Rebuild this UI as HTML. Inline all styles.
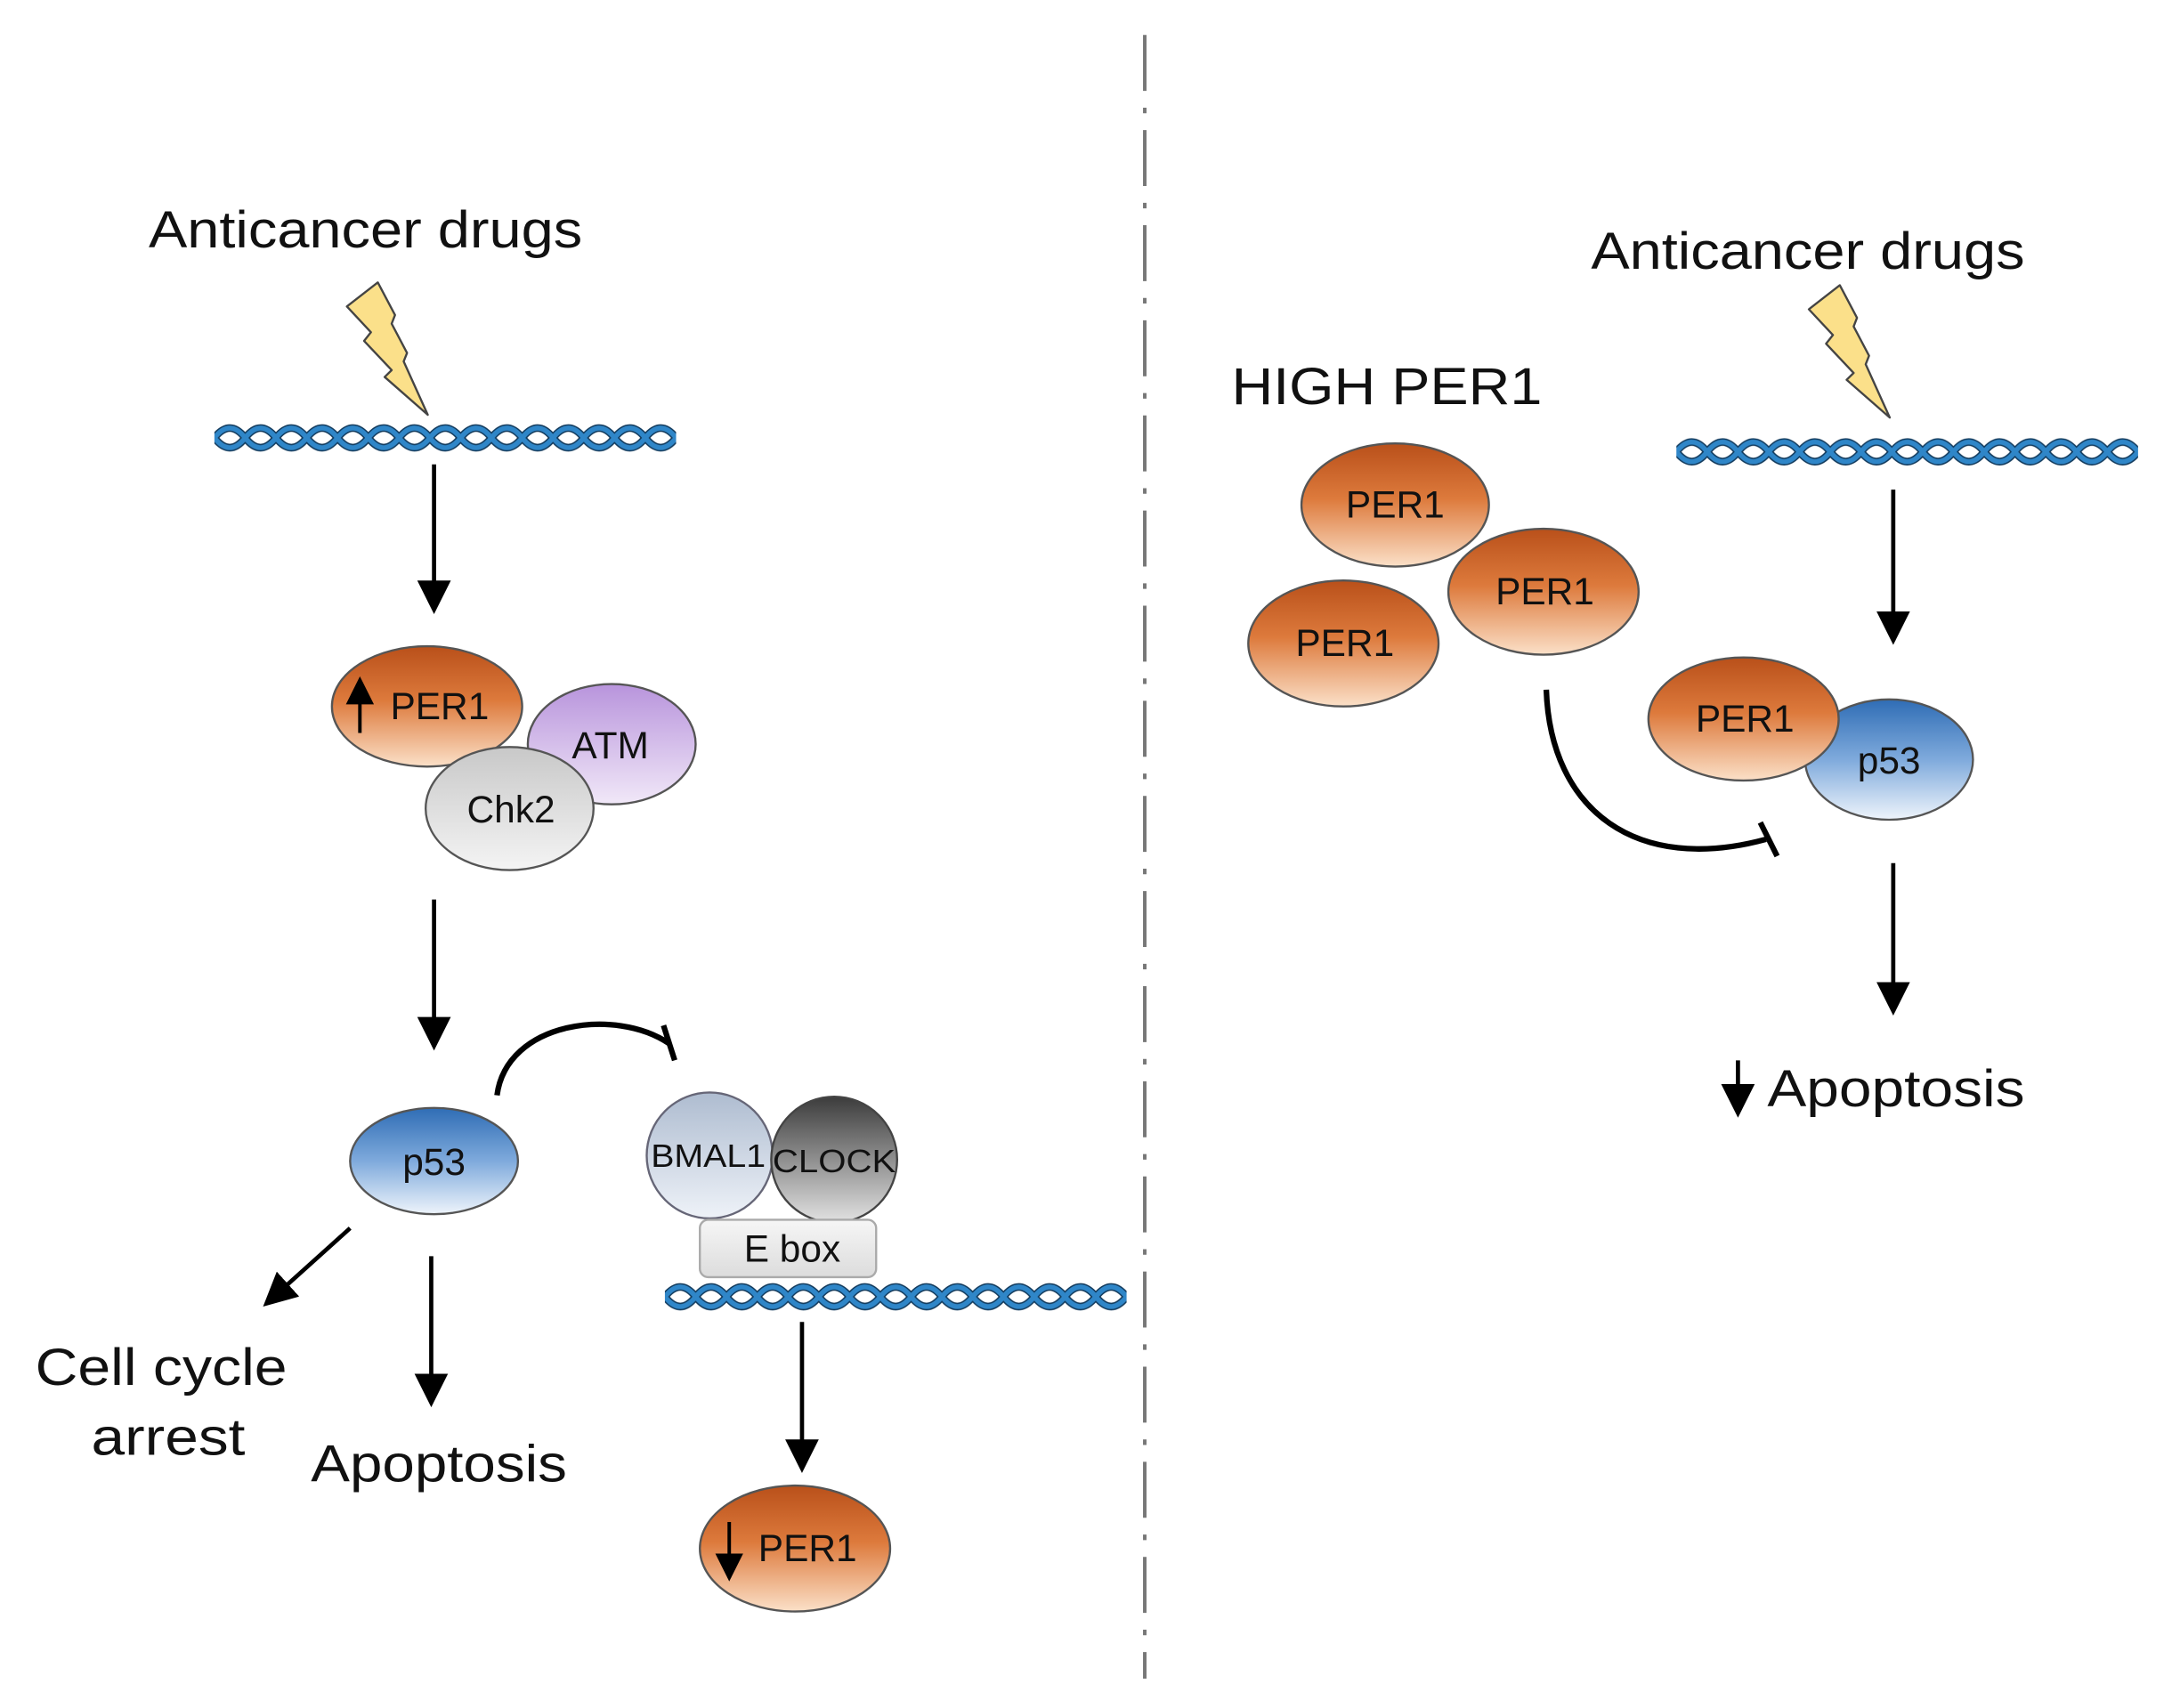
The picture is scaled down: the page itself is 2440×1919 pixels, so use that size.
<!DOCTYPE html>
<html><head><meta charset="utf-8"><style>
html,body{margin:0;padding:0;background:#fff}
svg{display:block}
text{font-family:"Liberation Sans",Arial,sans-serif;fill:#111}
</style></head><body>
<svg width="2440" height="1919" viewBox="0 0 1552 1221" xmlns="http://www.w3.org/2000/svg">
<defs>
<linearGradient id="or" x1="0" y1="0" x2="0" y2="1"><stop offset="0" stop-color="#b9501a"/><stop offset="0.45" stop-color="#dd7a3c"/><stop offset="1" stop-color="#fbe0c8"/></linearGradient>
<linearGradient id="bl" x1="0" y1="0" x2="0" y2="1"><stop offset="0" stop-color="#2f6db5"/><stop offset="0.5" stop-color="#7faadc"/><stop offset="1" stop-color="#eef4fb"/></linearGradient>
<linearGradient id="pu" x1="0" y1="0" x2="0" y2="1"><stop offset="0" stop-color="#b894dc"/><stop offset="1" stop-color="#f1e8f8"/></linearGradient>
<linearGradient id="gr" x1="0" y1="0" x2="0" y2="1"><stop offset="0" stop-color="#c8c8c8"/><stop offset="1" stop-color="#f4f4f4"/></linearGradient>
<linearGradient id="bm" x1="0" y1="0" x2="0" y2="1"><stop offset="0" stop-color="#aebcd0"/><stop offset="1" stop-color="#eef2f8"/></linearGradient>
<linearGradient id="ck" x1="0" y1="0" x2="0" y2="1"><stop offset="0" stop-color="#3c3c3c"/><stop offset="1" stop-color="#e2e2e2"/></linearGradient>
<linearGradient id="eb" x1="0" y1="0" x2="0" y2="1"><stop offset="0" stop-color="#f6f6f6"/><stop offset="1" stop-color="#dcdcdc"/></linearGradient>
<pattern id="dna" x="0" y="0" width="44" height="24" patternUnits="userSpaceOnUse">
<path d="M0,12 Q11,-2 22,12 T44,12" fill="none" stroke="#123a5c" stroke-width="5.5"/>
<path d="M0,12 Q11,26 22,12 T44,12" fill="none" stroke="#123a5c" stroke-width="5.5"/>
<path d="M0,12 Q11,-2 22,12 T44,12" fill="none" stroke="#2f86c8" stroke-width="3.5"/>
<path d="M0,12 Q11,26 22,12 T44,12" fill="none" stroke="#2f86c8" stroke-width="3.5"/>
</pattern>
<marker id="ah" markerWidth="8" markerHeight="8" refX="7" refY="4" orient="auto" markerUnits="strokeWidth"><path d="M0,0 L8,4 L0,8 z" fill="#000"/></marker>
<g id="bolt"><path d="M269.8,201.9 L282.1,225.2 L279.7,231.4 L290.7,252.3 L288.3,258.4 L305.5,296.5 L274.7,269.5 L279.7,264.6 L260,243.7 L264.9,237.5 L247.7,219.1 Z" fill="#fbe08a" stroke="#444" stroke-width="1.5" stroke-linejoin="round"/></g>
</defs>

<line x1="818" y1="25" x2="818" y2="1200" stroke="#777" stroke-width="2.5" stroke-dasharray="40,12,4,12"/>

<!-- LEFT -->
<text x="106" y="177" font-size="37" textLength="310" lengthAdjust="spacingAndGlyphs">Anticancer drugs</text>
<use href="#bolt"/>
<g transform="translate(153,301)"><rect x="0" y="0" width="330" height="24" fill="url(#dna)"/></g>
<line x1="310" y1="332" x2="310" y2="436" stroke="#000" stroke-width="3" marker-end="url(#ah)"/>

<ellipse cx="437" cy="532" rx="60" ry="43" fill="url(#pu)" stroke="#555" stroke-width="1.5"/>
<ellipse cx="305" cy="505" rx="68" ry="43" fill="url(#or)" stroke="#555" stroke-width="1.5"/>
<ellipse cx="364" cy="578" rx="60" ry="44" fill="url(#gr)" stroke="#555" stroke-width="1.5"/>
<text x="436" y="542" font-size="27" text-anchor="middle" fill="#222">ATM</text>
<text x="314" y="514" font-size="27" text-anchor="middle" fill="#222">PER1</text>
<text x="365" y="588" font-size="27" text-anchor="middle" fill="#222">Chk2</text>
<line x1="257" y1="524" x2="257" y2="486" stroke="#000" stroke-width="2.5" marker-end="url(#ah)"/>

<line x1="310" y1="643" x2="310" y2="748" stroke="#000" stroke-width="3" marker-end="url(#ah)"/>

<ellipse cx="310" cy="830" rx="60" ry="38" fill="url(#bl)" stroke="#555" stroke-width="1.5"/>
<text x="310" y="840" font-size="27" text-anchor="middle" fill="#222">p53</text>
<path d="M355,783 C362,730 440,720 478,746" fill="none" stroke="#000" stroke-width="4"/>
<line x1="474" y1="733" x2="482" y2="758" stroke="#000" stroke-width="4"/>

<line x1="250" y1="878" x2="190" y2="932" stroke="#000" stroke-width="3" marker-end="url(#ah)"/>
<line x1="308" y1="898" x2="308" y2="1003" stroke="#000" stroke-width="3" marker-end="url(#ah)"/>
<text x="25" y="990" font-size="37" textLength="180" lengthAdjust="spacingAndGlyphs">Cell cycle</text>
<text x="65" y="1040" font-size="37" textLength="110" lengthAdjust="spacingAndGlyphs">arrest</text>
<text x="222" y="1059" font-size="37" textLength="183" lengthAdjust="spacingAndGlyphs">Apoptosis</text>

<circle cx="507" cy="826" r="45" fill="url(#bm)" stroke="#667" stroke-width="1.5"/>
<circle cx="596" cy="829" r="45" fill="url(#ck)" stroke="#444" stroke-width="1.5"/>
<text x="506" y="834" font-size="23" text-anchor="middle" fill="#222" textLength="82" lengthAdjust="spacingAndGlyphs">BMAL1</text>
<text x="596" y="838" font-size="23" text-anchor="middle" fill="#222" textLength="88" lengthAdjust="spacingAndGlyphs">CLOCK</text>
<rect x="500" y="872" width="126" height="41" rx="6" fill="url(#eb)" stroke="#aaa" stroke-width="1.5"/>
<text x="566" y="902" font-size="27" text-anchor="middle" fill="#222">E box</text>
<g transform="translate(475,915)"><rect x="0" y="0" width="330" height="24" fill="url(#dna)"/></g>
<line x1="573" y1="945" x2="573" y2="1050" stroke="#000" stroke-width="3" marker-end="url(#ah)"/>
<ellipse cx="568" cy="1107" rx="68" ry="45" fill="url(#or)" stroke="#555" stroke-width="1.5"/>
<text x="577" y="1116" font-size="27" text-anchor="middle" fill="#222">PER1</text>
<line x1="521" y1="1088" x2="521" y2="1128" stroke="#000" stroke-width="2.5" marker-end="url(#ah)"/>

<!-- RIGHT -->
<text x="1137" y="192" font-size="37" textLength="310" lengthAdjust="spacingAndGlyphs">Anticancer drugs</text>
<use href="#bolt" transform="translate(1045,2)"/>
<g transform="translate(1198,311)"><rect x="0" y="0" width="330" height="24" fill="url(#dna)"/></g>
<line x1="1353" y1="350" x2="1353" y2="458" stroke="#000" stroke-width="3" marker-end="url(#ah)"/>

<text x="880" y="289" font-size="37" textLength="222" lengthAdjust="spacingAndGlyphs">HIGH PER1</text>
<ellipse cx="997" cy="361" rx="67" ry="44" fill="url(#or)" stroke="#555" stroke-width="1.5"/>
<text x="997" y="370" font-size="27" text-anchor="middle" fill="#222">PER1</text>
<ellipse cx="1103" cy="423" rx="68" ry="45" fill="url(#or)" stroke="#555" stroke-width="1.5"/>
<text x="1104" y="432" font-size="27" text-anchor="middle" fill="#222">PER1</text>
<ellipse cx="960" cy="460" rx="68" ry="45" fill="url(#or)" stroke="#555" stroke-width="1.5"/>
<text x="961" y="469" font-size="27" text-anchor="middle" fill="#222">PER1</text>

<ellipse cx="1350" cy="543" rx="60" ry="43" fill="url(#bl)" stroke="#555" stroke-width="1.5"/>
<ellipse cx="1246" cy="514" rx="68" ry="44" fill="url(#or)" stroke="#555" stroke-width="1.5"/>
<text x="1247" y="523" font-size="27" text-anchor="middle" fill="#222">PER1</text>
<text x="1350" y="553" font-size="27" text-anchor="middle" fill="#222">p53</text>

<path d="M1105,493 C1108,580 1170,625 1262,600" fill="none" stroke="#000" stroke-width="4"/>
<line x1="1258" y1="588" x2="1270" y2="612" stroke="#000" stroke-width="4"/>

<line x1="1353" y1="617" x2="1353" y2="723" stroke="#000" stroke-width="3" marker-end="url(#ah)"/>
<line x1="1242" y1="758" x2="1242" y2="796" stroke="#000" stroke-width="3" marker-end="url(#ah)"/>
<text x="1263" y="791" font-size="37" textLength="184" lengthAdjust="spacingAndGlyphs">Apoptosis</text>
</svg>
</body></html>
